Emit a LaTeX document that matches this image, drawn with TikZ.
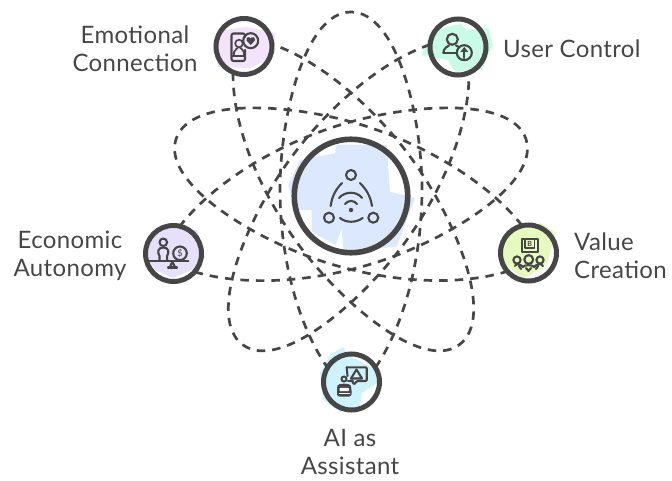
\documentclass[tikz,border=0pt]{standalone}
\usepackage{fontspec}
\setmainfont[LetterSpace=1.5]{Lato}
\definecolor{ink}{HTML}{464646}
\definecolor{cBlue}{HTML}{DBE8FD}
\definecolor{cPink}{HTML}{F3E3FC}
\definecolor{cMint}{HTML}{C9FBE6}
\definecolor{cLav}{HTML}{E6E0FB}
\definecolor{cLime}{HTML}{E6FAC0}
\definecolor{cSky}{HTML}{CFF3FD}
\tikzset{
  hub/.style={circle,draw=ink,line width=5.6pt,minimum size=113.5pt,inner sep=0pt,outer sep=0pt},
  sat/.style={circle,draw=ink,line width=5pt,minimum size=56pt,inner sep=0pt,outer sep=0pt},
  conn/.style={draw=ink,line width=2.7pt,dash pattern=on 8.5pt off 7pt},
  icon/.style={draw=ink,line width=1.7pt,line cap=round,line join=round},
  iconthick/.style={icon,line width=2.1pt},
  lab/.style={text=ink,font=\fontsize{24}{28}\selectfont,inner sep=0pt,align=center}
}
\begin{document}
\begin{tikzpicture}[x=1pt,y=-1pt]
\useasboundingbox (0,0) rectangle (672,481);
% colour blobs
\fill[cBlue] (336.7,145)--(386.7,145)--(390,191.7)--(415,198)--(396.7,246.7)--(343.3,251.7)--(341.7,228.3)--(335.7,245)--(311.7,231.7)--(311.7,210)--(295,210)--(288.3,185)--(300,160)--(335,153.3)--cycle;
\fill[cPink] (223,30)--(247,27)--(275,33)--(273,57)--(250,68)--(218,67)--(215,43)--cycle;
\fill[cMint] (421.7,55)--(431.7,30)--(461,24)--(466,30)--(488.3,28)--(493,45)--(481.7,70)--(455,71.7)--(448,60)--cycle;
\fill[cLav] (147,240)--(168,228)--(197,230)--(205,257)--(195,268)--(173,278)--(148,267)--cycle;
\fill[cLime] (500,250)--(507,230)--(532,228)--(540,223)--(555,232)--(548,262)--(540,270)--(523,278)--(503,263)--cycle;
\fill[cSky] (330,355)--(343,347)--(348,355)--(382,373)--(377,383)--(362,393)--(360,405)--(340,412)--(323,400)--(320,373)--cycle;
% nodes
\node[hub] (hub) at (351,196) {};
\coordinate (c) at (351,196);
\node[sat] (emo) at (244,46.5) {};
\node[sat] (usr) at (458,47) {};
\node[sat] (eco) at (173.5,253.5) {};
\node[sat] (val) at (528.5,253) {};
\node[sat] (ai) at (351.5,382) {};
% teardrop connectors
\foreach \n/\k in {ai/0,val/1,usr/2,emo/3,eco/4}{
  \pgfmathsetmacro{\aa}{31+72*\k}
  \pgfmathsetmacro{\ab}{149+72*\k}
  \draw[conn,shift={(c)},rotate=72*\k] (\n.\aa) .. controls (56,125) and (71,55) .. (71,-6)
     .. controls (71,-80) and (46,-184) .. (0,-184)
     .. controls (-46,-184) and (-71,-80) .. (-71,-6)
     .. controls (-71,55) and (-56,125) .. (\n.\ab);
}
% labels
\node[lab,anchor=center] (lemo) at (135,49) {Emotional\\Connection};
\node[lab,anchor=west] (lusr) at (503,49) {User Control};
\node[lab,anchor=center] (leco) at (70,256) {Economic\\Autonomy};
\node[lab,anchor=west,align=left] (lval) at (574,256) {Value\\Creation};
\node[lab,anchor=center] (lai) at (350,452) {AI as\\Assistant};
% hub icon
\draw[iconthick] (351,175) circle (5);
\draw[iconthick] (329,217.7) circle (5);
\draw[iconthick] (373.3,217.7) circle (5);
\draw[iconthick] (330.7,206) .. controls (332,196) and (336,189) .. (342,183);
\draw[iconthick] (372,206) .. controls (370.5,196) and (366,189) .. (360,183);
\draw[iconthick] (340,218) .. controls (346,223) and (356,223) .. (362.7,218);
\draw[iconthick] (339,198) .. controls (345,191) and (357,191) .. (362,198);
\draw[iconthick] (345,204) .. controls (348,200) and (354,200) .. (357,204);
\fill[ink] (351,210) circle (2.2);
% emotional icon
\draw[iconthick,rounded corners=2pt] (245,37) -- (245,33.5) -- (231.5,33.5) -- (231.5,61) -- (245,61) -- (245,50);
\draw[icon] (231.5,56) -- (245,56);
\draw[icon] (239,43.5) circle (3.8);
\draw[icon] (234,55) -- (234,52) .. controls (235,49.5) and (237,49) .. (238,47.5);
\draw[icon] (244,55) -- (244,52) .. controls (243,49.5) and (241,49) .. (240,47.5);
\draw[iconthick] (250.7,40.7) circle (7.5);
\fill[ink] (250.7,45) -- (246.5,40.5) .. controls (245.8,37) and (249.7,36) .. (250.7,38.5) .. controls (251.7,36) and (255.6,37) .. (254.9,40.5) -- cycle;
% user icon
\draw[iconthick] (452.3,39.3) circle (5.5);
\draw[iconthick] (443.3,52.7) -- (456,52.7);
\draw[iconthick] (443.3,52.7) .. controls (444,48) and (447,46.5) .. (449,45.5);
\draw[iconthick] (456,45.5) -- (459,47);
\draw[iconthick] (464.3,52.7) circle (7.5);
\draw[iconthick] (464.3,58) -- (464.3,49);
\fill[ink] (464.3,47) -- (468.3,52) -- (460.3,52) -- cycle;
% economic icon
\draw[iconthick] (163.3,242.3) circle (3.8);
\draw[iconthick] (159.5,261) -- (159.5,256) .. controls (157,252) and (158,247.5) .. (163.3,247.5) .. controls (168.6,247.5) and (169.6,252) .. (167.1,256) -- (167.1,261);
\draw[iconthick] (149.5,261.3) -- (188.3,261.3);
\draw[iconthick] (180,253.3) circle (6.8);
\node[text=ink,font=\fontsize{9}{9}\selectfont,inner sep=0pt] (dollar) at (180,253.3) {\$};
\draw[iconthick] (172.3,261.5) -- (170,267) -- (175,267) -- cycle;
\draw[iconthick] (168,267.5) -- (177,267.5);
% value icon
\draw[iconthick] (521.7,239.3) rectangle (537.7,251.7);
\draw[icon] (525,239.3) -- (525,248) -- (534.5,248) -- (534.5,239.3);
\node[text=ink,font=\bfseries\fontsize{7}{7}\selectfont,inner sep=0pt] (vb) at (529.7,243.5) {B};
\draw[iconthick] (517,260) circle (3.6);
\draw[iconthick] (528.7,259.5) circle (4.4);
\draw[iconthick] (540,260) circle (3.6);
\draw[iconthick] (515,266) .. controls (516,262.5) and (521,264.5) .. (523,267);
\draw[iconthick] (523,267) .. controls (524,264.5) and (533,264.5) .. (534,267);
\draw[iconthick] (534,267) .. controls (536,264.5) and (541,262.5) .. (543,266);
\draw[iconthick] (519,266) -- (521,269);
\draw[iconthick] (526,268) -- (528.5,271) -- (531,268);
\draw[iconthick] (538,266) -- (536,269);
% AI icon
\draw[iconthick,rounded corners=1pt] (346.7,367.3) -- (366.7,367.3) -- (366.7,381) -- (357,381) -- (354,384.5) -- (352,381) -- (351,380);
\draw[iconthick] (346.7,367.3) -- (347.5,376);
\draw[iconthick] (351,378.5) -- (356.5,369.5) -- (362,378.5) -- cycle;
\draw[iconthick] (344,379) circle (2.5);
\draw[iconthick] (348,381) -- (353,381);
\fill[ink,rounded corners=2.5pt] (337,396.5) -- (337,388) .. controls (338,383) and (350,383) .. (351.5,388) -- (351.5,396.5) -- cycle;
\fill[white,rounded corners=.8pt] (339.5,387.8) rectangle (349,391.2);
\fill[white] (339,393) rectangle (350,393.9);
\end{tikzpicture}
\end{document}
